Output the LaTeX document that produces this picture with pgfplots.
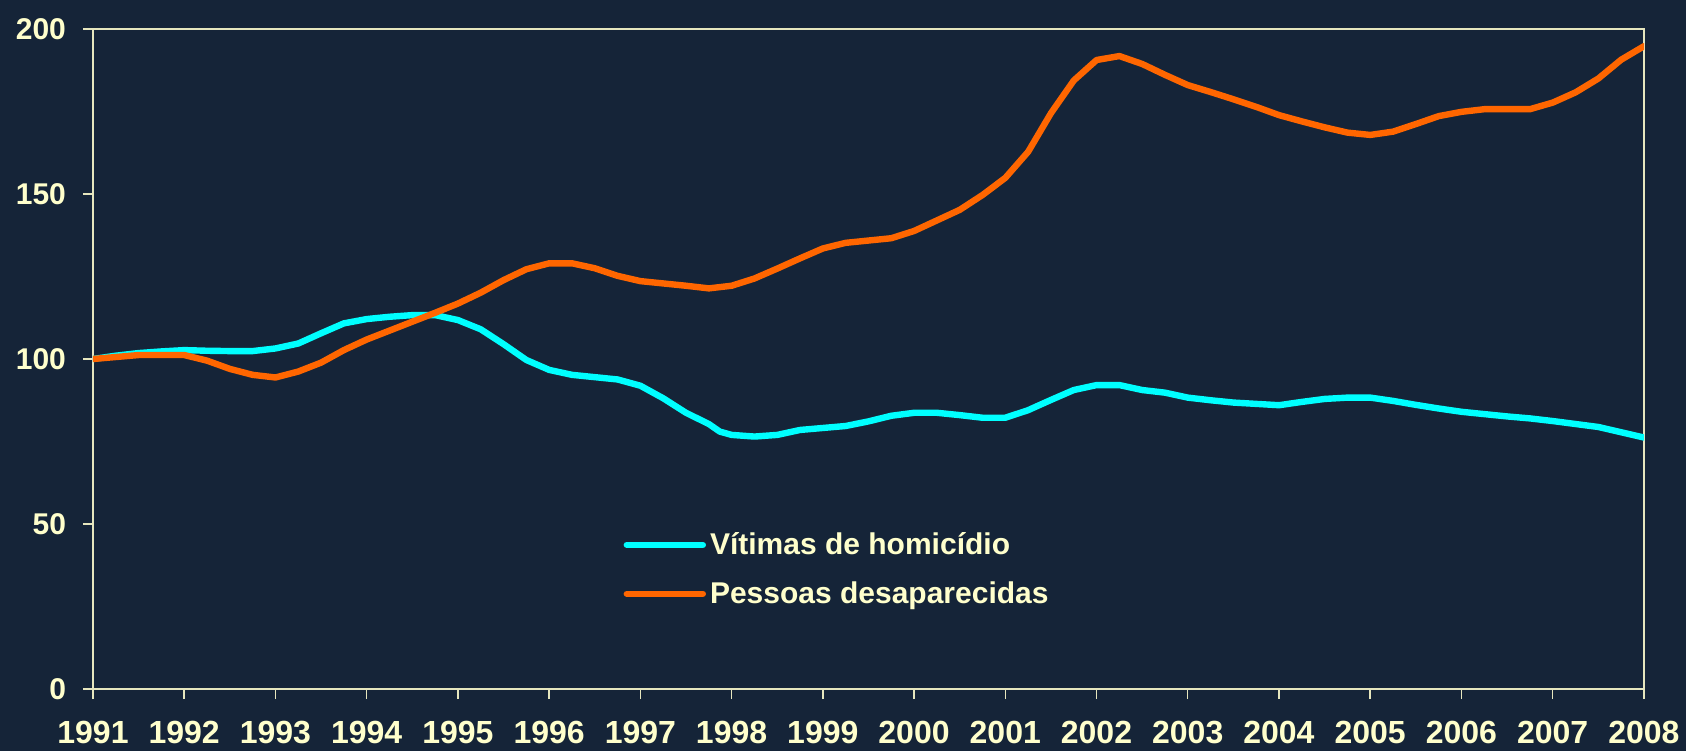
\documentclass[border=0pt]{standalone}
\usepackage{pgfplots}
\pgfplotsset{compat=1.18}
\usepackage{fontspec}
\setmainfont{Liberation Sans}
\definecolor{bg}{RGB}{21,36,56}
\definecolor{cream}{RGB}{255,255,204}
\definecolor{axcol}{RGB}{230,230,190}
\definecolor{cy}{RGB}{0,255,255}
\definecolor{orng}{RGB}{255,102,0}
\begin{document}
\begin{tikzpicture}
\fill[bg] (-46.5pt,-31pt) rectangle (796.5pt,344.5pt);
\begin{axis}[
  at={(0,0)}, anchor=south west,
  scale only axis, width=775.5pt, height=330pt,
  xmin=1991, xmax=2008, ymin=0, ymax=200,
  xtick={1991,...,2008}, ytick={0,50,100,150,200},
  /pgf/number format/1000 sep={},
  /pgf/number format/assume math mode=true,
  tick align=outside, xtick pos=bottom, ytick pos=left,
  major tick length=5pt,
  axis line style={axcol, line width=0.75pt},
  tick style={axcol, line width=0.75pt},
  ticklabel style={font=\fontsize{15}{18}\selectfont\bfseries, text=cream},
  xticklabel style={yshift=-7.5pt, font=\fontsize{16}{19}\selectfont\bfseries},
  yticklabel style={xshift=-5pt},
  legend style={draw=none, fill=none, at={(rel axis cs:0.338,0.25)}, anchor=north west,
    font=\fontsize{15}{18}\selectfont\bfseries, text=cream, row sep=8pt,
    legend cell align=left},
  legend image code/.code={\draw[#1, line cap=round] (0pt,0pt) -- (38pt,0pt);},
]
\addplot[cy, line width=3.2pt, line join=round, line cap=round] coordinates {
(1991.00,100)(1991.25,101)(1991.50,101.8)(1991.75,102.3)(1992.00,102.7)
(1992.25,102.5)(1992.50,102.4)(1992.75,102.4)(1993.00,103.2)(1993.25,104.7)
(1993.50,107.8)(1993.75,110.8)(1994.00,112.1)(1994.25,112.8)(1994.50,113.3)
(1994.75,113.3)(1995.00,111.8)(1995.25,109.0)(1995.50,104.5)(1995.75,99.7)
(1996.00,96.7)(1996.25,95.2)(1996.50,94.5)(1996.75,93.8)(1997.00,91.9)
(1997.25,88.1)(1997.50,83.7)(1997.75,80.3)(1997.87,78.0)(1998.00,77.0)
(1998.25,76.5)(1998.50,77.0)(1998.75,78.5)(1999.00,79.1)(1999.25,79.7)
(1999.50,81.1)(1999.75,82.8)(2000.00,83.7)(2000.25,83.7)(2000.50,83.0)
(2000.75,82.2)(2001.00,82.2)(2001.25,84.5)(2001.50,87.6)(2001.75,90.6)
(2002.00,92.1)(2002.25,92.1)(2002.50,90.6)(2002.75,89.8)(2003.00,88.3)
(2003.25,87.5)(2003.50,86.8)(2003.75,86.4)(2004.00,86.0)(2004.25,87.0)
(2004.50,87.9)(2004.75,88.3)(2005.00,88.3)(2005.25,87.3)(2005.50,86.1)
(2005.75,85.0)(2006.00,84.0)(2006.25,83.3)(2006.50,82.6)(2006.75,82.0)
(2007.00,81.2)(2007.25,80.3)(2007.50,79.4)(2007.75,77.8)(2008.00,76.2)
};
\addlegendentry{Vítimas de homicídio}
\addplot[orng, line width=3.2pt, line join=round, line cap=round] coordinates {
(1991.00,100)(1991.25,100.6)(1991.50,101.2)(1991.75,101.2)(1992.00,101.2)
(1992.25,99.5)(1992.50,97.0)(1992.75,95.2)(1993.00,94.4)(1993.25,96.2)
(1993.50,98.9)(1993.75,102.7)(1994.00,105.9)(1994.25,108.6)(1994.50,111.3)
(1994.75,114.0)(1995.00,116.8)(1995.25,120.1)(1995.50,123.9)(1995.75,127.2)
(1996.00,129.0)(1996.25,129.0)(1996.50,127.5)(1996.75,125.2)(1997.00,123.6)
(1997.25,122.9)(1997.50,122.2)(1997.75,121.4)(1998.00,122.2)(1998.25,124.4)
(1998.50,127.4)(1998.75,130.5)(1999.00,133.5)(1999.25,135.2)(1999.50,135.9)
(1999.75,136.6)(2000.00,138.8)(2000.25,142.0)(2000.50,145.2)(2000.75,149.7)
(2001.00,154.9)(2001.25,162.8)(2001.50,174.5)(2001.75,184.4)(2002.00,190.6)
(2002.25,191.8)(2002.50,189.4)(2002.75,186.1)(2003.00,183.0)(2003.25,180.9)
(2003.50,178.7)(2003.75,176.4)(2004.00,173.9)(2004.25,172.0)(2004.50,170.2)
(2004.75,168.6)(2005.00,167.9)(2005.25,168.9)(2005.50,171.2)(2005.75,173.6)
(2006.00,174.9)(2006.25,175.7)(2006.50,175.7)(2006.75,175.7)(2007.00,177.7)
(2007.25,180.8)(2007.50,185.0)(2007.75,190.7)(2008.00,194.8)
};
\addlegendentry{Pessoas desaparecidas}
\end{axis}
\pgfresetboundingbox
\path[use as bounding box] (-46.5pt,-31pt) rectangle (796.5pt,344.5pt);
\end{tikzpicture}
\end{document}
